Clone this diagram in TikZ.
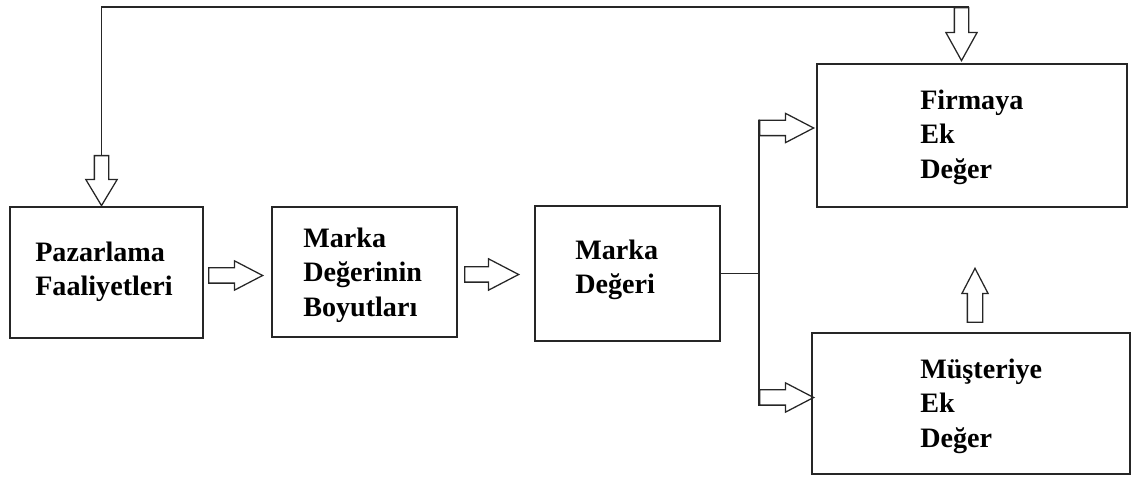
\documentclass[tikz,border=0pt]{standalone}
\usepackage{fontspec}
\setmainfont{Liberation Serif}
\usepackage{tikz}
\usetikzlibrary{shapes.arrows}
\newdimen\unitpx
\unitpx=0.025cm
\tikzset{
    box/.style = {draw, black!85, line width = 1pt, inner sep = 0pt},
    lbl/.style = {font = \fontsize{20}{24.5}\selectfont\bfseries, align = left, anchor = west, inner sep = 0pt},
    barrow/.style = {single arrow, draw, black!85, line width = 0.9pt, inner xsep = 0pt, inner ysep = 7\unitpx, anchor = tail,
        minimum height = 54\unitpx, single arrow head extend = 7\unitpx, single arrow tip angle = 55},
}
\begin{document}
\begin{tikzpicture}[x = 0.025cm, y = -0.025cm]
        \useasboundingbox (0,0) rectangle (1133,477);
        \node[box, minimum width = 193\unitpx, minimum height = 131\unitpx] (pf) at (106.5, 272.5) {};
        \node[box, minimum width = 185\unitpx, minimum height = 130\unitpx] (mdb) at (364.5, 272) {};
        \node[box, minimum width = 185\unitpx, minimum height = 135\unitpx] (md) at (627.5, 273.5) {};
        \node[box, minimum width = 310\unitpx, minimum height = 143\unitpx] (fe) at (972, 135.5) {};
        \node[box, minimum width = 318\unitpx, minimum height = 141\unitpx] (me) at (971, 403.5) {};
        \node[lbl] (pfT) at (35, 272) {Pazarlama\\Faaliyetleri};
        \node[lbl] (mdbT) at (303, 275) {Marka\\Değerinin\\Boyutları};
        \node[lbl] (mdT) at (575, 270) {Marka\\Değeri};
        \node[lbl] (feT) at (920, 137) {Firmaya\\Ek\\Değer};
        \node[lbl] (meT) at (920, 406) {Müşteriye\\Ek\\Değer};
        \node[barrow] (a1) at (208, 275.5) {};
        \node[barrow, single arrow head extend = 8\unitpx] (a2) at (464, 274.5) {};
        \node[barrow] (fa) at (759, 128) {};
        \node[barrow] (ma) at (759, 397.5) {};
        \node[barrow, rotate = 90, single arrow head extend = 5.5\unitpx] (ua) at (975, 323) {};
        \node[barrow, rotate = -90, minimum height = 50\unitpx, inner ysep = 6.5\unitpx, single arrow head extend = 8.5\unitpx, single arrow tip angle = 62] (pa) at (101.5, 155) {};
        \node[barrow, rotate = -90, minimum height = 53\unitpx, inner ysep = 6.5\unitpx, single arrow head extend = 8.5\unitpx, single arrow tip angle = 58] (ta) at (961.5, 7) {};
        \draw[black!85, line width = 1pt] (md.east) -- (fa.tail |- md.east);
        \draw[black!85, line width = 1pt] (fa.before tail) -- (fa.after tail) -- (ma.before tail) -- (ma.after tail);
        \draw[black!85, line width = 1pt] (pa.tail) |- (ta.before tail) -- (ta.after tail);
    \end{tikzpicture}
\end{document}
